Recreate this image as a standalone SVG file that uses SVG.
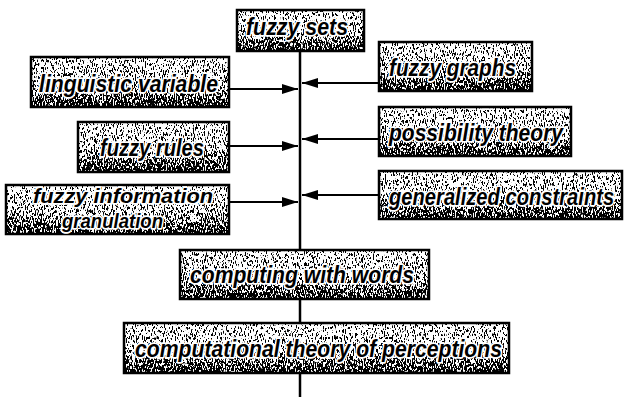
<svg xmlns="http://www.w3.org/2000/svg" width="624" height="401" viewBox="0 0 624 401">
  <style>
    .box { fill: url(#shade); filter: url(#grain); }
    .frame { fill: none; stroke: #000; stroke-width: 2.5; }
    .label { font-family: "Liberation Sans", Arial, sans-serif; font-style: italic; font-weight: bold; font-size: 24px; fill: #000; stroke: #fff; stroke-width: 3.5; stroke-linejoin: round; paint-order: stroke; }
    .small { font-size: 21px; }
    .wire { stroke: #000; stroke-width: 2.5; fill: none; }
    .arrow { stroke: #000; stroke-width: 2; fill: none; }
  </style>
  <defs>
    <!-- light at the top, darkening towards the bottom edge -->
    <linearGradient id="shade" x1="0" y1="0" x2="0" y2="1">
      <stop offset="0" stop-color="#cfcfcf"/>
      <stop offset="0.55" stop-color="#a8a8a8"/>
      <stop offset="1" stop-color="#383838"/>
    </linearGradient>
    <!-- halftone-like speckle: noise thresholded against the shade -->
    <filter id="grain" x="0" y="0" width="1" height="1" color-interpolation-filters="sRGB">
      <feTurbulence type="fractalNoise" baseFrequency="1.1 0.3" numOctaves="2" seed="7" result="n"/>
      <feColorMatrix in="n" type="matrix" values="3 0 0 0 -1  3 0 0 0 -1  3 0 0 0 -1  0 0 0 0 1" result="g"/>
      <feComposite in="g" in2="SourceGraphic" operator="arithmetic" k1="0" k2="1" k3="1" k4="-0.5" result="s"/>
      <feComponentTransfer in="s" result="t">
        <feFuncR type="linear" slope="8" intercept="-3.5"/>
        <feFuncG type="linear" slope="8" intercept="-3.5"/>
        <feFuncB type="linear" slope="8" intercept="-3.5"/>
      </feComponentTransfer>
      <feComposite in="t" in2="SourceAlpha" operator="in"/>
    </filter>
    <marker id="head" markerUnits="userSpaceOnUse" markerWidth="16" markerHeight="10" refX="16" refY="5" orient="auto">
      <path d="M0,0 L16,5 L0,10 Z" fill="#000"/>
    </marker>
  </defs>

  <!-- connectors: the central spine and the feeding arrows -->
  <g id="connectors">
    <line class="wire" x1="300" y1="51" x2="300" y2="250"/>
    <line class="wire" x1="300" y1="299" x2="300" y2="323"/>
    <line class="wire" x1="300" y1="373" x2="300" y2="397"/>
    <line class="arrow" x1="229" y1="89" x2="298" y2="89" marker-end="url(#head)"/>
    <line class="arrow" x1="229" y1="146" x2="298" y2="146" marker-end="url(#head)"/>
    <line class="arrow" x1="229" y1="202" x2="298" y2="202" marker-end="url(#head)"/>
    <line class="arrow" x1="379" y1="83" x2="302" y2="83" marker-end="url(#head)"/>
    <line class="arrow" x1="379" y1="139" x2="302" y2="139" marker-end="url(#head)"/>
    <line class="arrow" x1="379" y1="195" x2="302" y2="195" marker-end="url(#head)"/>
  </g>

  <g id="fuzzy-sets">
    <rect class="box" x="237" y="10" width="127" height="41"/>
    <rect class="frame" x="237" y="10" width="127" height="41"/>
    <text class="label" x="246" y="35" textLength="102" lengthAdjust="spacingAndGlyphs">fuzzy sets</text>
  </g>

  <g id="linguistic-variable">
    <rect class="box" x="31" y="57" width="198" height="50"/>
    <rect class="frame" x="31" y="57" width="198" height="50"/>
    <text class="label" x="39" y="92" textLength="179" lengthAdjust="spacingAndGlyphs">linguistic variable</text>
  </g>

  <g id="fuzzy-rules">
    <rect class="box" x="78" y="122" width="151" height="50"/>
    <rect class="frame" x="78" y="122" width="151" height="50"/>
    <text class="label" x="100" y="156" textLength="104" lengthAdjust="spacingAndGlyphs">fuzzy rules</text>
  </g>

  <g id="fuzzy-information-granulation">
    <rect class="box" x="6" y="185" width="223" height="49"/>
    <rect class="frame" x="6" y="185" width="223" height="49"/>
    <text class="label small" x="33" y="203" textLength="180" lengthAdjust="spacingAndGlyphs">fuzzy information</text>
    <text class="label small" x="62" y="228" textLength="101" lengthAdjust="spacingAndGlyphs">granulation</text>
  </g>

  <g id="fuzzy-graphs">
    <rect class="box" x="379" y="42" width="153" height="49"/>
    <rect class="frame" x="379" y="42" width="153" height="49"/>
    <text class="label" x="389" y="76" textLength="127" lengthAdjust="spacingAndGlyphs">fuzzy graphs</text>
  </g>

  <g id="possibility-theory">
    <rect class="box" x="379" y="107" width="192" height="49"/>
    <rect class="frame" x="379" y="107" width="192" height="49"/>
    <text class="label" x="389" y="141" textLength="174" lengthAdjust="spacingAndGlyphs">possibility theory</text>
  </g>

  <g id="generalized-constraints">
    <rect class="box" x="379" y="171" width="243" height="48"/>
    <rect class="frame" x="379" y="171" width="243" height="48"/>
    <!-- condensed horizontally so the label stays inside the right edge -->
    <text class="label" transform="translate(389,205) scale(0.84,1)">generalized constraints</text>
  </g>

  <g id="computing-with-words">
    <rect class="box" x="180" y="250" width="249" height="49"/>
    <rect class="frame" x="180" y="250" width="249" height="49"/>
    <text class="label" x="190" y="283" textLength="224" lengthAdjust="spacingAndGlyphs">computing with words</text>
  </g>

  <g id="computational-theory-of-perceptions">
    <rect class="box" x="124" y="323" width="385" height="50"/>
    <rect class="frame" x="124" y="323" width="385" height="50"/>
    <text class="label" x="135" y="357" textLength="367" lengthAdjust="spacingAndGlyphs">computational theory of perceptions</text>
  </g>
</svg>
